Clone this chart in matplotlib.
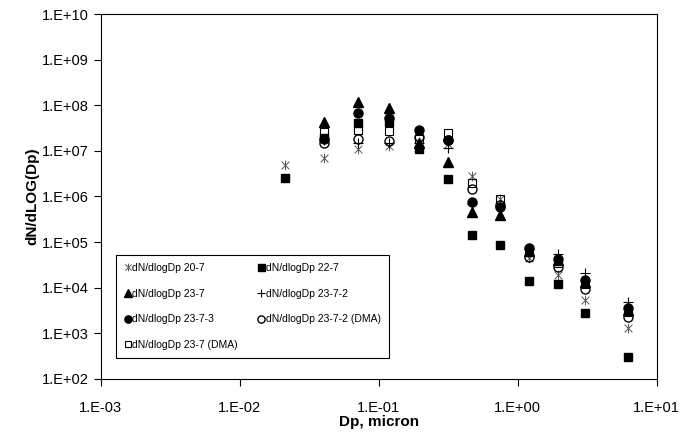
import matplotlib
matplotlib.use("Agg")
import matplotlib.pyplot as plt
from matplotlib.ticker import FixedLocator, FuncFormatter, NullLocator
from matplotlib.path import Path
import numpy as np

plt.rcParams['font.family'] = ['Liberation Sans', 'DejaVu Sans']

# particle diameter, micron
dp = [0.0212, 0.0406, 0.0713, 0.119, 0.195, 0.316, 0.471, 0.748, 1.21, 1.96, 3.06, 6.24]
dp_b = dp[1:]

# dN/dlogDp for each run
s20_7 = [4.8e6, 6.8e6, 1.07e7, 1.3e7, 1.6e7, 1.4e7, 2.8e6, 8.7e5, 4.5e4, 1.9e4, 5.3e3, 1.3e3]
s22_7 = [2.6e6, 1.9e7, 4.1e7, 4.3e7, 1.1e7, 2.4e6, 1.43e5, 8.6e4, 1.4e4, 1.2e4, 2.8e3, 3.0e2]
s23_7 = [4.3e7, 1.17e8, 8.7e7, 1.5e7, 5.7e6, 4.5e5, 3.9e5, 6.5e4, 4.0e4, 1.3e4, 3.3e3]
s23_7_2 = [1.7e7, 1.5e7, 1.5e7, 1.5e7, 1.15e7, 7.0e5, 6.0e5, 7.0e4, 5.5e4, 2.1e4, 4.8e3]
s23_7_3 = [1.8e7, 6.7e7, 5.2e7, 2.9e7, 1.73e7, 7.5e5, 5.8e5, 7.4e4, 4.2e4, 1.47e4, 3.6e3]
s23_7_2_dma = [1.52e7, 1.82e7, 1.64e7, 2.0e7, 1.7e7, 1.45e6, 6.5e5, 4.7e4, 2.8e4, 9.3e3, 2.3e3]
s23_7_dma = [2.65e7, 2.86e7, 2.7e7, 1.8e7, 2.45e7, 1.97e6, 8.7e5, 6.0e4, 3.5e4, 1.2e4, 3.0e3]

# excel style star: X plus a vertical bar
star = Path([(0, -1), (0, 1), (-0.8, -0.8), (0.8, 0.8), (-0.8, 0.8), (0.8, -0.8)],
            [Path.MOVETO, Path.LINETO, Path.MOVETO, Path.LINETO, Path.MOVETO, Path.LINETO])

fig = plt.figure(figsize=(6.82, 4.38), dpi=100)
ax = fig.add_axes([0.148, 0.135, 0.815, 0.833])

h20, = ax.plot(dp, s20_7, linestyle='none', marker=star, ms=7, mec='#555555', mew=0.7,
               label='dN/dlogDp 20-7')
h22, = ax.plot(dp, s22_7, linestyle='none', marker='s', ms=6.3, mfc='black', mec='black',
               label='dN/dlogDp 22-7')
h23, = ax.plot(dp_b, s23_7, linestyle='none', marker='^', ms=7, mfc='black', mec='black',
               label='dN/dlogDp 23-7')
h232, = ax.plot(dp_b, s23_7_2, linestyle='none', marker='+', ms=7, mec='black', mew=0.8,
                label='dN/dlogDp 23-7-2')
h233, = ax.plot(dp_b, s23_7_3, linestyle='none', marker='o', ms=6.5, mfc='black', mec='black',
                label='dN/dlogDp 23-7-3')
h232d, = ax.plot(dp_b, s23_7_2_dma, linestyle='none', marker='o', ms=6.5, mfc='none',
                 mec='black', mew=1.0, label='dN/dlogDp 23-7-2 (DMA)')
h23d, = ax.plot(dp_b, s23_7_dma, linestyle='none', marker='s', ms=6, mfc='none', mec='black',
                mew=0.8, label='dN/dlogDp 23-7 (DMA)')

ax.set_xscale('log')
ax.set_yscale('log')
ax.set_xlim(1e-3, 1e1)
ax.set_ylim(1e2, 1e10)

fmt = FuncFormatter(lambda v, p: "1.E{:+03d}".format(int(round(np.log10(v)))))
ax.xaxis.set_major_locator(FixedLocator([10.0 ** k for k in range(-3, 2)]))
ax.yaxis.set_major_locator(FixedLocator([10.0 ** k for k in range(2, 11)]))
ax.xaxis.set_minor_locator(NullLocator())
ax.yaxis.set_minor_locator(NullLocator())
ax.xaxis.set_major_formatter(fmt)
ax.yaxis.set_major_formatter(fmt)
ax.tick_params(axis='both', direction='out', length=5, width=0.8, labelsize=10.5,
               colors='black')
ax.tick_params(axis='x', pad=11)

for sp in ax.spines.values():
    sp.set_linewidth(0.8)
    sp.set_color('black')

ax.set_xlabel('Dp, micron', fontsize=11, fontweight='bold', labelpad=0)
ax.set_ylabel('dN/dLOG(Dp)', fontsize=11, fontweight='bold', labelpad=2)

# legend filled row by row like the original
handles = [h20, h23, h233, h23d, h22, h232, h232d]
leg = ax.legend(handles=handles, labels=[h.get_label() for h in handles],
                loc='lower left', bbox_to_anchor=(0.018, 0.042), ncol=2, fontsize=7.5,
                frameon=True, fancybox=False, edgecolor='black', framealpha=1,
                handlelength=0.6, handletextpad=0.15, columnspacing=1.9,
                labelspacing=1.5, borderpad=0.8, markerscale=0.8)
leg.get_frame().set_linewidth(0.8)

fig.savefig('out.png', dpi=100)
